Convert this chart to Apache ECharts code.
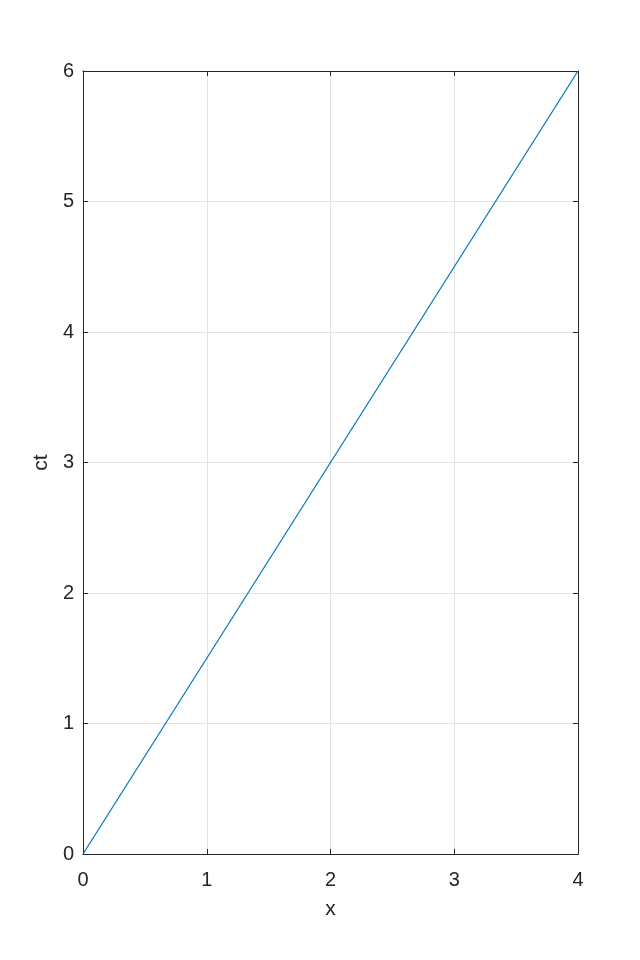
<!DOCTYPE html>
<html>
<head>
<meta charset="utf-8">
<script src="https://cdn.jsdelivr.net/npm/echarts@6/dist/echarts.min.js"></script>
<style>html,body{margin:0;padding:0;background:#fff;}#c{width:640px;height:960px;}</style>
</head>
<body>
<div id="c"></div>
<script>
var xValues = [0, 4];
var ctValues = [0, 6];
var xLabel = 'x';
var yLabel = 'ct';

var chart = echarts.init(document.getElementById('c'));
var axisColor = '#262626';
var font = 'Liberation Sans, Arial, sans-serif';
var data = xValues.map(function (x, i) { return [x, ctValues[i]]; });
function baseAxis(extra) {
  return Object.assign({
    type: 'value',
    axisLine: { show: true, onZero: false, lineStyle: { color: axisColor, width: 1 } },
    axisTick: { show: true, inside: true, length: 5, lineStyle: { color: axisColor } },
    splitLine: { show: false },
    axisLabel: { show: false }
  }, extra);
}
chart.setOption({
  animation: false,
  backgroundColor: '#fff',
  grid: { left: 83, right: 62, top: 71, bottom: 106, containLabel: false },
  xAxis: [
    baseAxis({
      min: 0, max: 4, interval: 1, position: 'bottom',
      name: xLabel, nameLocation: 'middle', nameGap: 45,
      nameTextStyle: { color: axisColor, fontSize: 21, fontFamily: font },
      axisLabel: { show: true, color: axisColor, fontSize: 20, fontFamily: font, margin: 16 },
      splitLine: { show: true, lineStyle: { color: '#e3e3e3', width: 1 } }
    }),
    baseAxis({ min: 0, max: 4, interval: 1, position: 'top' })
  ],
  yAxis: [
    baseAxis({
      min: 0, max: 6, interval: 1, position: 'left',
      name: yLabel, nameLocation: 'middle', nameGap: 29, nameRotate: 90,
      nameTextStyle: { color: axisColor, fontSize: 21, fontFamily: font },
      axisLabel: { show: true, color: axisColor, fontSize: 20, fontFamily: font, margin: 9 },
      splitLine: { show: true, lineStyle: { color: '#e3e3e3', width: 1 } }
    }),
    baseAxis({ min: 0, max: 6, interval: 1, position: 'right' })
  ],
  series: [{
    type: 'line',
    data: data,
    showSymbol: false,
    lineStyle: { color: '#0072BD', width: 1.2 },
    xAxisIndex: 0, yAxisIndex: 0
  }]
});
</script>
</body>
</html>
